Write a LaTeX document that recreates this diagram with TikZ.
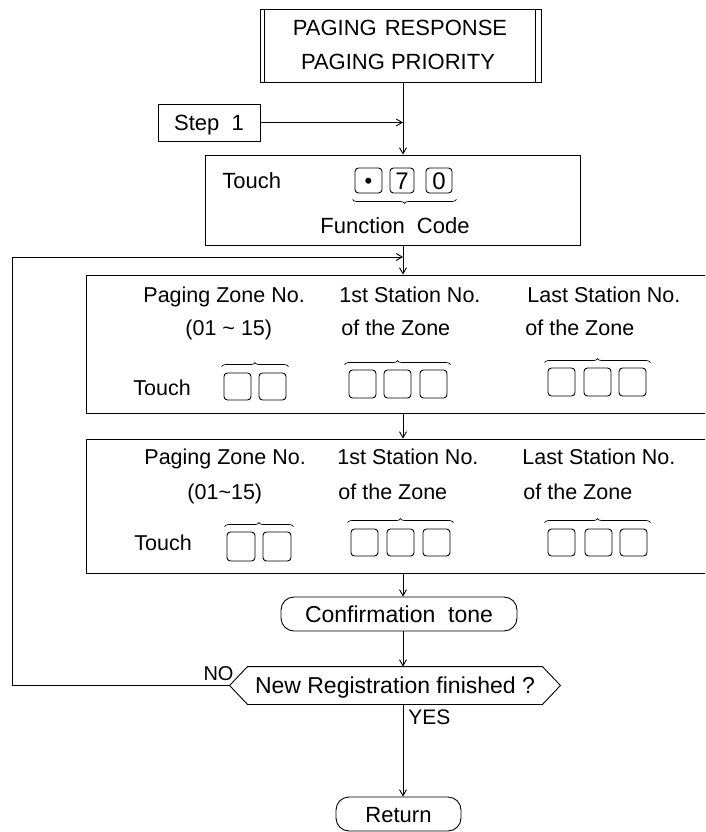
\documentclass[tikz,border=0pt]{standalone}
\usepackage{fontspec}
\setmainfont{Liberation Sans}
\usetikzlibrary{decorations.pathreplacing,arrows.meta,calc}
\begin{document}
\begin{tikzpicture}[x=1pt,y=-1pt,line width=0.9pt,
  every node/.style={inner sep=0pt, text height=16pt, text depth=0pt, font=\fontsize{22}{26}\selectfont},
  box/.style={draw},
  keybox/.style={draw, rounded corners=3.5pt},
  arr/.style={-{Straight Barb[length=6pt,width=7pt]}},
  br/.style={decorate, decoration={brace, amplitude=4pt}, line width=0.7pt},
  zt/.style={anchor=west, font=\fontsize{21.5}{26}\selectfont, text height=15.5pt},
  ztxt/.style={font=\fontsize{23}{26}\selectfont, text height=16.5pt},
]
\useasboundingbox (0,0) rectangle (705,832);
\clip (0,0) rectangle (705,832);
\coordinate (mx) at (403,0);
\coordinate (lx) at (12,0);

% title
\node[box, minimum width=281pt, minimum height=73pt] (title) at (400.5,45.5) {};
\draw ($(title.north west)+(5,0)$) -- ($(title.south west)+(5,0)$);
\draw ($(title.north east)+(-6,0)$) -- ($(title.south east)+(-6,0)$);
\node (t1) at (400,27.5) {PAGING\hspace{8pt}RESPONSE};
\node (t2) at (398,61.5) {PAGING PRIORITY};

% step 1
\node[box, minimum width=102pt, minimum height=37pt] (step) at (209,122.5) {Step\ \ 1};
\coordinate (j1) at (403,122.5);

% function code box
\node[box, minimum width=375pt, minimum height=90pt] (func) at (392.5,200) {};
\node[anchor=west] (ftouch) at (222,180) {Touch};
\node[keybox, minimum width=27pt, minimum height=25pt] (kdot) at (368.5,180.5) {\textbullet};
\node[keybox, minimum width=24pt, minimum height=25pt, font=\fontsize{24}{26}\selectfont, text height=17pt] (k7) at (402,180.5) {7};
\node[keybox, minimum width=26pt, minimum height=25pt, font=\fontsize{24}{26}\selectfont, text height=17pt] (k0) at (439,180.5) {0};
\draw[br] ($(k0.south east)+(4,6)$) -- ($(kdot.south west)+(-2,6)$);
\node (fcode) at (395,225) {Function\ \ Code};

\coordinate (j2) at (403,257);

% zone box 1
\node[box, minimum width=634pt, minimum height=138pt] (z1) at (403,344) {};
\node[zt] (z1a) at (143,295) {Paging Zone No.};
\node[zt] (z1b) at (185,328) {(01 \textasciitilde\ 15)};
\node[zt] (z1c) at (339,295) {1st Station No.};
\node[zt] (z1d) at (341,328) {of the Zone};
\node[zt] (z1e) at (527,295) {Last Station No.};
\node[zt] (z1f) at (525,328) {of the Zone};
\node[zt] (z1g) at (133,388) {Touch};
\node[keybox, minimum width=27pt, minimum height=27pt] (a1) at (237.5,386.5) {};
\node[keybox, minimum width=27pt, minimum height=27pt] (a2) at (272.5,386.5) {};
\node[keybox, minimum width=27pt, minimum height=28pt] (b1) at (362.5,384) {};
\node[keybox, minimum width=27pt, minimum height=28pt] (b2) at (397.5,384) {};
\node[keybox, minimum width=27pt, minimum height=28pt] (b3) at (433.5,384) {};
\node[keybox, minimum width=27pt, minimum height=28pt] (c1) at (561.5,382) {};
\node[keybox, minimum width=27pt, minimum height=28pt] (c2) at (597.5,382) {};
\node[keybox, minimum width=27pt, minimum height=28pt] (c3) at (632.5,382) {};
\draw[br] ($(a1.north west)+(-2,-6)$) -- ($(a2.north east)+(2,-6)$);
\draw[br] ($(b1.north west)+(-4,-5)$) -- ($(b3.north east)+(3,-5)$);
\draw[br] ($(c1.north west)+(-3,-5)$) -- ($(c3.north east)+(4,-5)$);

% zone box 2
\node[box, minimum width=634pt, minimum height=134pt] (z2) at (403,506) {};
\node[zt] (z2a) at (144,457) {Paging Zone No.};
\node[zt] (z2b) at (187,492) {(01\textasciitilde 15)};
\node[zt] (z2c) at (337,457) {1st Station No.};
\node[zt] (z2d) at (338,492) {of the Zone};
\node[zt] (z2e) at (522,457) {Last Station No.};
\node[zt] (z2f) at (523,492) {of the Zone};
\node[zt] (z2g) at (134,543) {Touch};
\node[keybox, minimum width=28pt, minimum height=29pt] (d1) at (241,546.5) {};
\node[keybox, minimum width=28pt, minimum height=29pt] (d2) at (277,546.5) {};
\node[keybox, minimum width=27pt, minimum height=27pt] (e1) at (364.5,542.5) {};
\node[keybox, minimum width=27pt, minimum height=27pt] (e2) at (400.5,542.5) {};
\node[keybox, minimum width=27pt, minimum height=27pt] (e3) at (436.5,542.5) {};
\node[keybox, minimum width=27pt, minimum height=27pt] (f1) at (561.5,542.5) {};
\node[keybox, minimum width=27pt, minimum height=27pt] (f2) at (598.5,542.5) {};
\node[keybox, minimum width=27pt, minimum height=27pt] (f3) at (633.5,542.5) {};
\draw[br] ($(d1.north west)+(-2,-5)$) -- ($(d2.north east)+(2,-5)$);
\draw[br] ($(e1.north west)+(-3,-6)$) -- ($(e3.north east)+(3,-6)$);
\draw[br] ($(f1.north west)+(-3,-6)$) -- ($(f3.north east)+(3,-6)$);

% confirmation tone
\node[draw, rounded corners=13pt, minimum width=236pt, minimum height=34pt, ztxt] (conf) at (399,614) {Confirmation\ \ tone};

% decision
\node[minimum width=294pt, minimum height=37pt, ztxt] (dec) at (395,685.5) {New Registration finished ?};
\draw (dec.north west) -- (dec.north east) -- ($(dec.east)+(18,0)$) -- (dec.south east)
  -- (dec.south west) -- ($(dec.west)+(-18,0)$) -- cycle;
\coordinate (dectip) at ($(dec.west)+(-18,0)$);
\node[font=\fontsize{20}{24}\selectfont, text height=14.5pt] (no) at (218.5,673.5) {NO};
\node[anchor=west, font=\fontsize{21}{24}\selectfont, text height=15pt] (yes) at (408,716.5) {YES};

% return
\node[draw, rounded corners=13pt, minimum width=125pt, minimum height=34pt] (ret) at (398.5,814) {Return};

% connectors
\draw[arr] (title.south -| mx) -- (func.north -| mx);
\draw[arr] (step.east) -- (j1);
\draw[arr] (func.south -| mx) -- (z1.north -| mx);
\draw[arr] (dectip) -- (dectip -| lx) |- (j2);
\draw[arr] (z1.south -| mx) -- (z2.north -| mx);
\draw[arr] (z2.south -| mx) -- (conf.north -| mx);
\draw[arr] (conf.south -| mx) -- (dec.north -| mx);
\draw[arr] (dec.south -| mx) -- (ret.north -| mx);
\end{tikzpicture}
\end{document}
